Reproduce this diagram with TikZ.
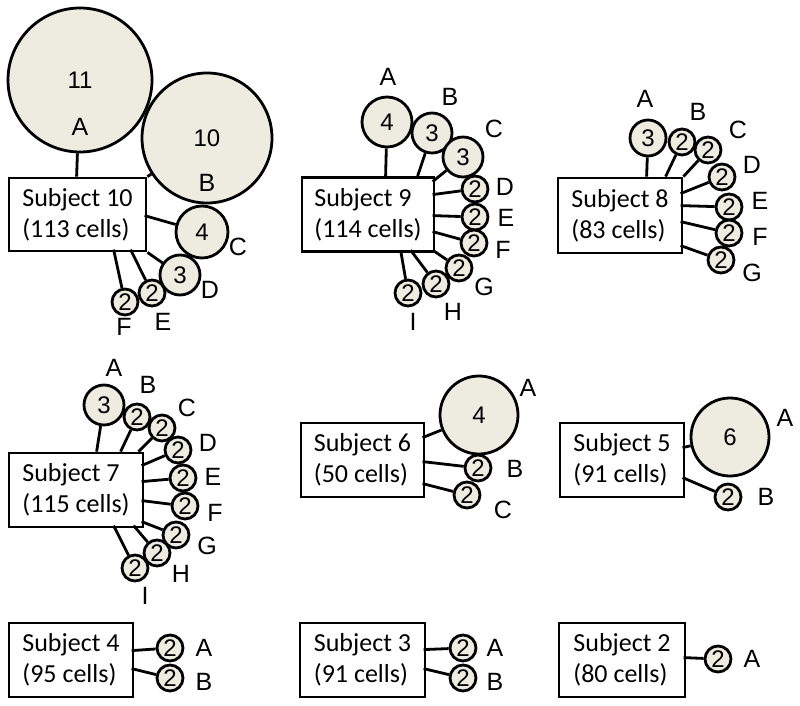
\documentclass[tikz,border=0pt]{standalone}
\usepackage{fontspec}
\setmainfont{Liberation Sans}
\newfontfamily\boxfont{Carlito}
\newfontfamily\labfont{Liberation Sans}
\usetikzlibrary{calc}
\definecolor{cellfill}{HTML}{EEECE1}
\begin{document}
\begin{tikzpicture}[x=1pt,y=-1pt,
  subj/.style={draw,line width=2.8pt,fill=white,align=left,inner sep=0pt,font=\boxfont\fontsize{26}{31}\selectfont},
  clone/.style={circle,draw,line width=2.8pt,fill=cellfill,inner sep=0pt,minimum size=#1,font=\labfont\fontsize{24}{28}\selectfont},
  lab/.style={inner sep=0pt,font=\labfont\fontsize{25}{29}\selectfont},
  link/.style={line width=2.8pt}]
\useasboundingbox (0,0) rectangle (800,706);

% ---------------- Subject 10
\node[subj,minimum width=137,minimum height=73] (S10) at (77.5,214.5) {Subject 10\\(113 cells)};
\node[clone=144] (c10A) at (80,80) {11};
\node[clone=130] (c10B) at (207,138) {10};
\node[clone=52] (c10C) at (202,232) {4};
\node[clone=40] (c10D) at (180,275) {3};
\node[clone=26] (c10E) at (152,293) {2};
\node[clone=26] (c10F) at (125,302) {2};
\node[lab] (l10A) at (80,127) {A};
\node[lab] (l10B) at (207,183) {B};
\node[lab] (l10C) at (238,247) {C};
\node[lab] (l10D) at (210,290) {D};
\node[lab] (l10E) at (163,322) {E};
\node[lab] (l10F) at (124,327) {F};
\draw[link] ($(S10.north west)+(69,0)$) -- (c10A);
\draw[link] (S10.north east) -- (c10B);
\draw[link] ($(S10.north west)+(137,39)$) -- (c10C);
\draw[link] (S10.south east) -- (c10D);
\draw[link] ($(S10.north west)+(123,73)$) -- (c10E);
\draw[link] ($(S10.north west)+(106,73)$) -- (c10F);

% ---------------- Subject 9
\node[subj,minimum width=132,minimum height=74] (S9) at (368,214.5) {Subject 9\\(114 cells)};
\node[clone=50] (c9A) at (387,122) {4};
\node[clone=40] (c9B) at (432,133) {3};
\node[clone=40] (c9C) at (463,157) {3};
\node[clone=26] (c9D) at (475,189) {2};
\node[clone=26] (c9E) at (475,217) {2};
\node[clone=26] (c9F) at (474,243) {2};
\node[clone=26] (c9G) at (459,268) {2};
\node[clone=26] (c9H) at (436,284) {2};
\node[clone=26] (c9I) at (408,293) {2};
\node[lab] (l9A) at (388,77) {A};
\node[lab] (l9B) at (450,97) {B};
\node[lab] (l9C) at (494,129) {C};
\node[lab] (l9D) at (505,187) {D};
\node[lab] (l9E) at (506,218) {E};
\node[lab] (l9F) at (503,250) {F};
\node[lab] (l9G) at (484,287) {G};
\node[lab] (l9H) at (453,312) {H};
\node[lab] (l9I) at (413,322) {I};
\draw[link] ($(S9.north west)+(85,0)$) -- (c9A);
\draw[link] ($(S9.north west)+(117,0)$) -- (c9B);
\draw[link] ($(S9.north west)+(132,5.5)$) -- (c9C);
\draw[link] ($(S9.north west)+(132,18.5)$) -- (c9D);
\draw[link] ($(S9.north west)+(132,39.5)$) -- (c9E);
\draw[link] ($(S9.north west)+(132,55.5)$) -- (c9F);
\draw[link] ($(S9.north west)+(132,74)$) -- (c9G);
\draw[link] ($(S9.north west)+(110,74)$) -- (c9H);
\draw[link] ($(S9.north west)+(100,74)$) -- (c9I);

% ---------------- Subject 8
\node[subj,minimum width=124,minimum height=75] (S8) at (620,215.5) {Subject 8\\(83 cells)};
\node[clone=36] (c8A) at (648,138) {3};
\node[clone=26] (c8B) at (682,142) {2};
\node[clone=26] (c8C) at (708,150) {2};
\node[clone=26] (c8D) at (722,177) {2};
\node[clone=26] (c8E) at (729,207) {2};
\node[clone=26] (c8F) at (729,233) {2};
\node[clone=26] (c8G) at (721,260) {2};
\node[lab] (l8A) at (645,99) {A};
\node[lab] (l8B) at (698,112) {B};
\node[lab] (l8C) at (738,130) {C};
\node[lab] (l8D) at (752,165) {D};
\node[lab] (l8E) at (760,201) {E};
\node[lab] (l8F) at (760,237) {F};
\node[lab] (l8G) at (752,273) {G};
\draw[link] ($(S8.north west)+(90,0)$) -- (c8A);
\draw[link] ($(S8.north west)+(109,0)$) -- (c8B);
\draw[link] (S8.north east) -- (c8C);
\draw[link] ($(S8.north west)+(124,17)$) -- (c8D);
\draw[link] ($(S8.north west)+(124,29)$) -- (c8E);
\draw[link] ($(S8.north west)+(124,45)$) -- (c8F);
\draw[link] ($(S8.north west)+(124,69)$) -- (c8G);

% ---------------- Subject 7
\node[subj,minimum width=134,minimum height=74] (S7) at (76,490) {Subject 7\\(115 cells)};
\node[clone=40] (c7A) at (104,405) {3};
\node[clone=26] (c7B) at (137,417) {2};
\node[clone=26] (c7C) at (162,428) {2};
\node[clone=26] (c7D) at (178,450) {2};
\node[clone=26] (c7E) at (183,478) {2};
\node[clone=26] (c7F) at (185,506) {2};
\node[clone=26] (c7G) at (176,535) {2};
\node[clone=26] (c7H) at (157,553) {2};
\node[clone=26] (c7I) at (135,568) {2};
\node[lab] (l7A) at (114,368) {A};
\node[lab] (l7B) at (148,385) {B};
\node[lab] (l7C) at (187,408) {C};
\node[lab] (l7D) at (208,443) {D};
\node[lab] (l7E) at (213,477) {E};
\node[lab] (l7F) at (215,513) {F};
\node[lab] (l7G) at (207,546) {G};
\node[lab] (l7H) at (181,574) {H};
\node[lab] (l7I) at (145,596) {I};
\draw[link] ($(S7.north west)+(89,0)$) -- (c7A);
\draw[link] ($(S7.north west)+(113,0)$) -- (c7B);
\draw[link] ($(S7.north west)+(131,0)$) -- (c7C);
\draw[link] ($(S7.north west)+(134,14)$) -- (c7D);
\draw[link] ($(S7.north west)+(134,30)$) -- (c7E);
\draw[link] ($(S7.north west)+(134,49)$) -- (c7F);
\draw[link] ($(S7.north west)+(134,70)$) -- (c7G);
\draw[link] ($(S7.north west)+(126,74)$) -- (c7H);
\draw[link] ($(S7.north west)+(106,74)$) -- (c7I);

% ---------------- Subject 6
\node[subj,minimum width=123,minimum height=74] (S6) at (362.5,460) {Subject 6\\(50 cells)};
\node[clone=78] (c6A) at (479,415) {4};
\node[clone=26] (c6B) at (478,468) {2};
\node[clone=26] (c6C) at (467,495) {2};
\node[lab] (l6A) at (528,388) {A};
\node[lab] (l6B) at (515,469) {B};
\node[lab] (l6C) at (503,510) {C};
\draw[link] ($(S6.north west)+(123,16)$) -- (c6A);
\draw[link] ($(S6.north west)+(123,40)$) -- (c6B);
\draw[link] ($(S6.north west)+(123,62)$) -- (c6C);

% ---------------- Subject 5
\node[subj,minimum width=124,minimum height=74] (S5) at (622,460) {Subject 5\\(91 cells)};
\node[clone=78] (c5A) at (730,437) {6};
\node[clone=26] (c5B) at (728,497) {2};
\node[lab] (l5A) at (785,418) {A};
\node[lab] (l5B) at (766,497) {B};
\draw[link] ($(S5.north west)+(124,26)$) -- (c5A);
\draw[link] ($(S5.north west)+(124,56)$) -- (c5B);

% ---------------- Subject 4
\node[subj,minimum width=124,minimum height=74] (S4) at (71,660) {Subject 4\\(95 cells)};
\node[clone=26] (c4A) at (170,648) {2};
\node[clone=26] (c4B) at (170,678) {2};
\node[lab] (l4A) at (204,648) {A};
\node[lab] (l4B) at (204,682) {B};
\draw[link] ($(S4.north west)+(124,29)$) -- (c4A);
\draw[link] ($(S4.north west)+(124,47)$) -- (c4B);

% ---------------- Subject 3
\node[subj,minimum width=125,minimum height=74] (S3) at (362.5,660) {Subject 3\\(91 cells)};
\node[clone=26] (c3A) at (463,648) {2};
\node[clone=26] (c3B) at (463,678) {2};
\node[lab] (l3A) at (495,648) {A};
\node[lab] (l3B) at (495,682) {B};
\draw[link] ($(S3.north west)+(125,28)$) -- (c3A);
\draw[link] ($(S3.north west)+(125,47)$) -- (c3B);

% ---------------- Subject 2
\node[subj,minimum width=126,minimum height=74] (S2) at (622,660) {Subject 2\\(80 cells)};
\node[clone=26] (c2A) at (718,659) {2};
\node[lab] (l2A) at (752,659) {A};
\draw[link] ($(S2.north west)+(126,36)$) -- (c2A);
\end{tikzpicture}
\end{document}
